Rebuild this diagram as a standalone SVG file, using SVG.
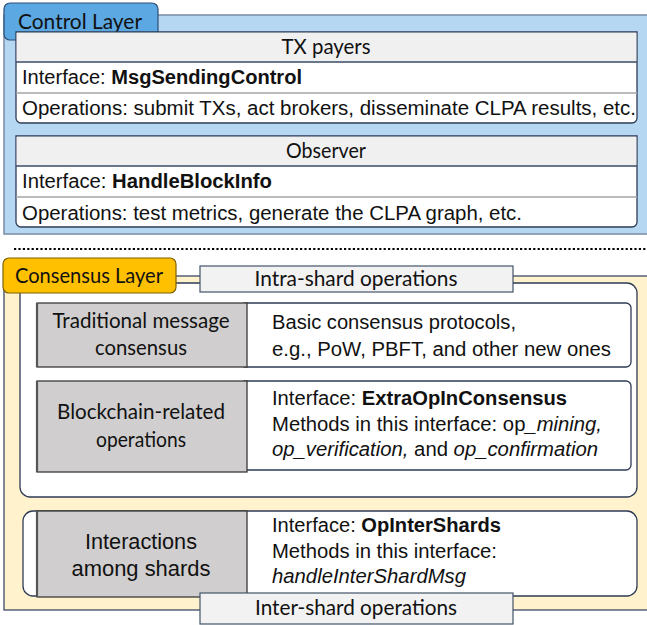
<svg xmlns="http://www.w3.org/2000/svg" width="647" height="625" viewBox="0 0 647 625">
<style>
.cal{font-family:Lato,"Open Sans","Liberation Sans",sans-serif;fill:#111}
.ar{font-family:"Liberation Sans",Arial,sans-serif;fill:#111}
.b{font-weight:bold}
.i{font-style:italic}
.box{fill:#fff;stroke:#2E3B55;stroke-width:1.3}
.hdr{fill:#F0F0F0;stroke:none}
.gray{fill:#D0CECE;stroke:#3A3A3A;stroke-width:1.3}
.lbl{fill:#F2F2F2;stroke:#44546A;stroke-width:1.2}
</style>
<rect width="647" height="625" fill="#fff"/>

<g id="control-layer">
  <rect x="4" y="15" width="650" height="219" fill="#B6D7F1" stroke="#7A8BA5" stroke-width="1.5"/>
  <rect x="4" y="3" width="154" height="37" rx="6" fill="#5CA8E2" stroke="#2E4E7A" stroke-width="1.2"/>
  <text class="cal" x="18" y="29" font-size="22" textLength="124" lengthAdjust="spacingAndGlyphs">Control  Layer</text>
</g>

<g id="tx-payers">
  <path class="box" d="M16 32 H637 V118 a5 5 0 0 1 -5 5 H21 a5 5 0 0 1 -5 -5 Z"/>
  <rect class="hdr" x="16.7" y="32.7" width="619.6" height="29"/>
  <line x1="16" y1="62" x2="637" y2="62" stroke="#3B4A66" stroke-width="1.5"/>
  <line x1="16" y1="93" x2="637" y2="93" stroke="#A6A6A6" stroke-width="1.5"/>
  <text class="cal" x="326" y="54" font-size="21" text-anchor="middle" textLength="89" lengthAdjust="spacingAndGlyphs">TX payers</text>
  <text class="ar" x="22" y="84" font-size="20" textLength="280" lengthAdjust="spacingAndGlyphs">Interface: <tspan class="b">MsgSendingControl</tspan></text>
  <text class="ar" x="22" y="115" font-size="20" textLength="614" lengthAdjust="spacingAndGlyphs">Operations: submit TXs, act brokers, disseminate CLPA results, etc.</text>
</g>

<g id="observer">
  <path class="box" d="M16 136 H637 V222 a5 5 0 0 1 -5 5 H21 a5 5 0 0 1 -5 -5 Z"/>
  <rect class="hdr" x="16.7" y="136.7" width="619.6" height="29"/>
  <line x1="16" y1="166" x2="637" y2="166" stroke="#3B4A66" stroke-width="1.5"/>
  <line x1="16" y1="197" x2="637" y2="197" stroke="#A6A6A6" stroke-width="1.5"/>
  <text class="cal" x="326" y="158" font-size="21" text-anchor="middle" textLength="80" lengthAdjust="spacingAndGlyphs">Observer</text>
  <text class="ar" x="22" y="188" font-size="20" textLength="250" lengthAdjust="spacingAndGlyphs">Interface: <tspan class="b">HandleBlockInfo</tspan></text>
  <text class="ar" x="22" y="220" font-size="20" textLength="500" lengthAdjust="spacingAndGlyphs">Operations: test metrics, generate the CLPA graph, etc.</text>
</g>

<g id="separator">
  <line x1="14" y1="249" x2="647" y2="249" stroke="#000" stroke-width="2.2" stroke-dasharray="2.2,2.2"/>
</g>

<g id="consensus-layer">
  <rect x="4" y="276" width="650" height="334" fill="#FFF2CC" stroke="#3B4A66" stroke-width="1.3"/>
</g>

<g id="intra-shard">
  <rect x="20" y="283" width="617" height="214" rx="10" fill="#fff" stroke="#2E3B55" stroke-width="1.3"/>
</g>

<g id="traditional-consensus">
  <rect class="box" x="240" y="303" width="391" height="64" rx="5"/>
  <rect class="gray" x="37" y="303" width="210" height="64"/>
  <line x1="37" y1="303" x2="37" y2="367" stroke="#555" stroke-width="2.2"/>
  <text class="cal" x="141" y="328" font-size="21" text-anchor="middle" textLength="177" lengthAdjust="spacingAndGlyphs">Traditional message</text>
  <text class="cal" x="141" y="355" font-size="21" text-anchor="middle" textLength="92" lengthAdjust="spacingAndGlyphs">consensus</text>
  <text class="ar" x="272" y="329" font-size="20" textLength="244" lengthAdjust="spacingAndGlyphs">Basic consensus protocols,</text>
  <text class="ar" x="272" y="356" font-size="20" textLength="339" lengthAdjust="spacingAndGlyphs">e.g., PoW, PBFT, and other new ones</text>
</g>

<g id="blockchain-operations">
  <rect class="box" x="240" y="381" width="391" height="89" rx="5"/>
  <rect class="gray" x="37" y="381" width="210" height="91"/>
  <line x1="37" y1="381" x2="37" y2="472" stroke="#555" stroke-width="2.2"/>
  <text class="cal" x="141" y="419" font-size="21" text-anchor="middle" textLength="168" lengthAdjust="spacingAndGlyphs">Blockchain-related</text>
  <text class="cal" x="141" y="447" font-size="21" text-anchor="middle" textLength="90" lengthAdjust="spacingAndGlyphs">operations</text>
  <text class="ar" x="272" y="405" font-size="20" textLength="295" lengthAdjust="spacingAndGlyphs">Interface: <tspan class="b">ExtraOpInConsensus</tspan></text>
  <text class="ar" x="272" y="431" font-size="20" textLength="330" lengthAdjust="spacingAndGlyphs">Methods in this interface: op<tspan class="i">_mining,</tspan></text>
  <text class="ar" x="272" y="456" font-size="20" textLength="326" lengthAdjust="spacingAndGlyphs"><tspan class="i">op_verification,</tspan> and <tspan class="i">op_confirmation</tspan></text>
</g>

<g id="inter-shard">
  <rect x="23" y="511" width="614" height="85" rx="10" fill="#fff" stroke="#2E3B55" stroke-width="1.3"/>
  <rect class="gray" x="37" y="511" width="210" height="86"/>
  <line x1="37" y1="511" x2="37" y2="597" stroke="#555" stroke-width="2.2"/>
  <text class="ar" x="141" y="549" font-size="22" text-anchor="middle" textLength="112" lengthAdjust="spacingAndGlyphs">Interactions</text>
  <text class="ar" x="141" y="576" font-size="22" text-anchor="middle" textLength="139" lengthAdjust="spacingAndGlyphs">among shards</text>
  <text class="ar" x="272" y="532" font-size="20" textLength="229" lengthAdjust="spacingAndGlyphs">Interface: <tspan class="b">OpInterShards</tspan></text>
  <text class="ar" x="272" y="558" font-size="20" textLength="225" lengthAdjust="spacingAndGlyphs">Methods in this interface:</text>
  <text class="ar i" x="272" y="583" font-size="20" textLength="194" lengthAdjust="spacingAndGlyphs">handleInterShardMsg</text>
</g>

<g id="intra-label">
  <rect class="lbl" x="200" y="266" width="313" height="26"/>
  <text class="cal" x="356" y="286" font-size="21" text-anchor="middle" textLength="203" lengthAdjust="spacingAndGlyphs">Intra-shard operations</text>
</g>

<g id="inter-label">
  <rect class="lbl" x="200" y="593" width="313" height="31"/>
  <text class="cal" x="356" y="615" font-size="21" text-anchor="middle" textLength="202" lengthAdjust="spacingAndGlyphs">Inter-shard operations</text>
</g>

<g id="consensus-tab">
  <rect x="3" y="258" width="173" height="35" rx="6" fill="#FFC000" stroke="#7F6000" stroke-width="1.2"/>
  <text class="cal" x="15" y="283" font-size="21" textLength="148" lengthAdjust="spacingAndGlyphs">Consensus Layer</text>
</g>

<g id="connectors"></g>
</svg>
